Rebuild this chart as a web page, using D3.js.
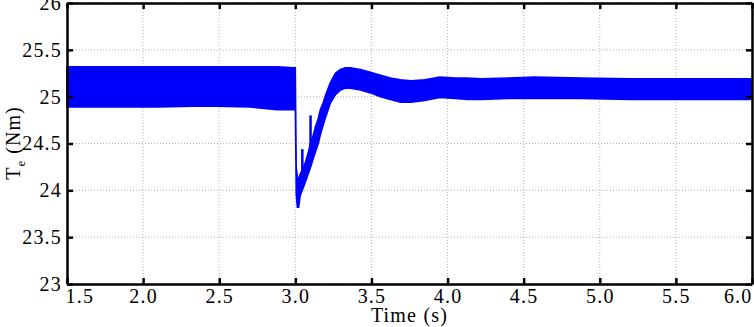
<!DOCTYPE html>
<html>
<head>
<meta charset="utf-8">
<script src="https://cdn.jsdelivr.net/npm/d3@7"></script>
<style>
  body { margin: 0; background: #fff; }
  svg { display: block; }
  text { font-family: "Liberation Serif", "Times New Roman", Times, serif; fill: #000; }
  .tick text { font-size: 20px; letter-spacing: 1.2px; }
</style>
</head>
<body>
<svg id="chart" width="754" height="327"></svg>
<script>
// envelope of the torque band (upper / lower edge)
const time = [1.5, 1.8, 2.1, 2.4, 2.7, 2.88, 2.99, 3.0, 3.006, 3.013, 3.022, 3.033, 3.046,
  3.066, 3.086, 3.099, 3.118, 3.132, 3.151, 3.164, 3.184, 3.197, 3.23, 3.263, 3.296, 3.33,
  3.362, 3.428, 3.493, 3.559, 3.625, 3.691, 3.76, 3.85, 3.95, 4.05, 4.13, 4.22, 4.4, 4.57,
  4.88, 5.2, 5.6, 6.0]
const upper = [25.32, 25.32, 25.32, 25.32, 25.32, 25.32, 25.31, 25.31, 24.25, 24.15, 24.12, 24.18, 24.22,
  24.30, 24.41, 24.50, 24.59, 24.68, 24.77, 24.86, 24.94, 25.01, 25.15, 25.25, 25.29, 25.31,
  25.31, 25.29, 25.26, 25.23, 25.20, 25.18, 25.17, 25.18, 25.21, 25.20, 25.20, 25.19, 25.20, 25.21,
  25.20, 25.19, 25.19, 25.19]
const lower = [24.89, 24.89, 24.89, 24.90, 24.89, 24.86, 24.86, 24.87, 23.95, 23.82, 23.82, 23.95, 24.00,
  24.09, 24.18, 24.24, 24.34, 24.41, 24.50, 24.59, 24.70, 24.77, 24.93, 25.02, 25.07, 25.09,
  25.09, 25.07, 25.04, 25.00, 24.97, 24.94, 24.94, 24.96, 24.99, 24.98, 24.97, 24.97, 24.98, 24.98,
  24.98, 24.97, 24.97, 24.97]

// thin spikes sticking out of the band
const spikeTime = [3.046, 3.10]
const spikeFrom = [24.20, 24.33]
const spikeTo = [24.44, 24.80]

const xTicks = [1.5, 2.0, 2.5, 3.0, 3.5, 4.0, 4.5, 5.0, 5.5, 6.0]
const yTicks = [23, 23.5, 24, 24.5, 25, 25.5, 26]

const svg = d3.select('#chart')
const plotL = 67, plotR = 752, plotT = 3, plotB = 284
const serif = '"Liberation Serif", "Times New Roman", Times, serif'

const x = d3.scaleLinear().domain([1.5, 6.0]).range([plotL, plotR])
const y = d3.scaleLinear().domain([23, 26]).range([plotB, plotT])

// dotted grid
svg.append('g')
  .selectAll('line')
  .data(xTicks)
  .enter()
  .append('line')
  .attr('x1', d => x(d)).attr('x2', d => x(d))
  .attr('y1', plotT).attr('y2', plotB)
  .attr('stroke', '#b4b4b4').attr('stroke-dasharray', '1,2')

svg.append('g')
  .selectAll('line')
  .data(yTicks)
  .enter()
  .append('line')
  .attr('x1', plotL).attr('x2', plotR)
  .attr('y1', d => y(d)).attr('y2', d => y(d))
  .attr('stroke', '#b4b4b4').attr('stroke-dasharray', '1,2')

// band
const rows = time.map((t, i) => ({ t: t, hi: upper[i], lo: lower[i] }))
const band = d3.area()
  .x(d => x(d.t))
  .y0(d => y(d.lo))
  .y1(d => y(d.hi))

svg.append('path')
  .datum(rows)
  .attr('d', band)
  .attr('fill', '#0000ff')
  .attr('stroke', '#0000ff')
  .attr('stroke-width', 1.5)

svg.append('g')
  .selectAll('line')
  .data(spikeTime)
  .enter()
  .append('line')
  .attr('x1', d => x(d)).attr('x2', d => x(d))
  .attr('y1', (d, i) => y(spikeFrom[i]))
  .attr('y2', (d, i) => y(spikeTo[i]))
  .attr('stroke', '#0000ff')
  .attr('stroke-width', 2.5)

// axes, ticks pointing inwards
const xBottom = svg.append('g')
  .attr('transform', `translate(0, ${plotB})`)
  .call(d3.axisBottom(x).tickValues(xTicks).tickSizeInner(-6).tickSizeOuter(0)
    .tickPadding(5).tickFormat(d3.format('.1f')))

xBottom.selectAll('.tick text')
  .filter(d => d === 1.5)
  .attr('text-anchor', 'start').attr('x', -2)
xBottom.selectAll('.tick text')
  .filter(d => d === 6.0)
  .attr('text-anchor', 'end').attr('x', 0)

svg.append('g')
  .attr('transform', `translate(0, ${plotT})`)
  .call(d3.axisTop(x).tickValues(xTicks).tickSizeInner(-6).tickSizeOuter(0).tickFormat(''))

svg.append('g')
  .attr('transform', `translate(${plotL}, 0)`)
  .call(d3.axisLeft(y).tickValues(yTicks).tickSizeInner(-6).tickSizeOuter(0)
    .tickPadding(5).tickFormat(d3.format('')))

svg.append('g')
  .attr('transform', `translate(${plotR}, 0)`)
  .call(d3.axisRight(y).tickValues(yTicks).tickSizeInner(-6).tickSizeOuter(0).tickFormat(''))

svg.selectAll('.domain').attr('stroke', '#000').attr('stroke-width', 2.5)
svg.selectAll('.tick line').attr('stroke', '#000').attr('stroke-width', 2.5)
svg.selectAll('g').attr('font-family', serif).attr('font-size', null)

// labels
svg.append('text')
  .attr('x', (plotL + plotR) / 2)
  .attr('y', 322)
  .attr('text-anchor', 'middle')
  .style('font-size', '20px')
  .style('letter-spacing', '1.2px')
  .text('Time (s)')

const yLabel = svg.append('text')
  .attr('transform', 'translate(20, 143) rotate(-90)')
  .attr('text-anchor', 'middle')
  .style('font-size', '20px')
  .style('letter-spacing', '1px')
yLabel.append('tspan').text('T')
yLabel.append('tspan').attr('dy', 5).style('font-size', '13px').text('e')
yLabel.append('tspan').attr('dy', -5).text(' (Nm)')

svg.selectAll('text').attr('font-family', serif)
</script>
</body>
</html>
